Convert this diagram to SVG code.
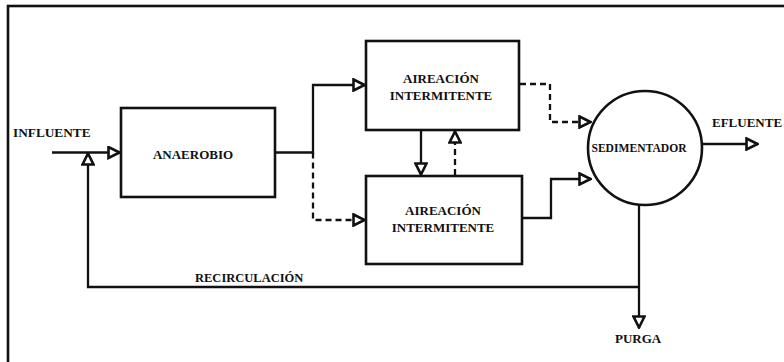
<svg xmlns="http://www.w3.org/2000/svg" width="784" height="362" viewBox="0 0 784 362">
  <style>
    .box { fill: none; stroke: #111; stroke-width: 2.6; }
    .ln { fill: none; stroke: #111; stroke-width: 2.3; }
    .dash { stroke-dasharray: 6 4; }
    .lbl { font-family: "Liberation Serif", "Times New Roman", serif; font-weight: bold; fill: #111; font-size: 13px; }
    .mid { text-anchor: middle; }
  </style>
  <defs>
    <marker id="arr" viewBox="0 0 14 14" refX="13" refY="7" markerWidth="14" markerHeight="14" markerUnits="userSpaceOnUse" orient="auto">
      <path d="M1.5,1.5 L12.5,7 L1.5,12.5 Z" fill="#fff" stroke="#111" stroke-width="2.6" stroke-linejoin="miter"/>
    </marker>
  </defs>
  <rect x="0" y="0" width="784" height="362" fill="#fff"/>
  <rect id="frame" x="8" y="6" width="800" height="400" class="box"/>

  <g id="connectors">
    <!-- influente -->
    <path class="ln" d="M52,152.5 H120" marker-end="url(#arr)"/>
    <!-- recirculacion -->
    <path class="ln" d="M639,287 H88 V153" marker-end="url(#arr)"/>
    <!-- anaerobio to aeration -->
    <path class="ln" d="M275,152.5 H313 V85 H365" marker-end="url(#arr)"/>
    <path class="ln dash" d="M313,152.5 V220 H365" marker-end="url(#arr)"/>
    <!-- between aeration boxes -->
    <path class="ln" d="M421,130 V175" marker-end="url(#arr)"/>
    <path class="ln dash" d="M455,175 V131" marker-end="url(#arr)"/>
    <!-- aeration to sedimentador -->
    <path class="ln dash" d="M520,84 H550 V122 H591" marker-end="url(#arr)"/>
    <path class="ln" d="M522,218 H551 V179 H591" marker-end="url(#arr)"/>
    <!-- efluente -->
    <path class="ln" d="M702,144 H758" marker-end="url(#arr)"/>
    <!-- purga -->
    <path class="ln" d="M639,205 V328" marker-end="url(#arr)"/>
  </g>

  <g id="anaerobio">
    <rect class="box" x="121" y="108" width="154" height="89"/>
    <text class="lbl mid" x="193" y="159">ANAEROBIO</text>
  </g>

  <g id="aireacion1">
    <rect class="box" x="366" y="41" width="153" height="89"/>
    <text class="lbl mid" x="441" y="83">AIREACIÓN</text>
    <text class="lbl mid" x="441" y="100">INTERMITENTE</text>
  </g>

  <g id="aireacion2">
    <rect class="box" x="366" y="176" width="156" height="88"/>
    <text class="lbl mid" x="443" y="215">AIREACIÓN</text>
    <text class="lbl mid" x="443" y="232">INTERMITENTE</text>
  </g>

  <g id="sedimentador">
    <circle class="box" cx="645" cy="148" r="57"/>
    <text class="lbl mid" x="639" y="152" style="font-size:11.6px">SEDIMENTADOR</text>
  </g>

  <g id="labels">
    <text class="lbl" x="13" y="137" style="font-size:13.3px">INFLUENTE</text>
    <text class="lbl" x="712" y="127">EFLUENTE</text>
    <text class="lbl" x="195" y="282" style="font-size:12.5px">RECIRCULACIÓN</text>
    <text class="lbl" x="615" y="343">PURGA</text>
  </g>
</svg>
